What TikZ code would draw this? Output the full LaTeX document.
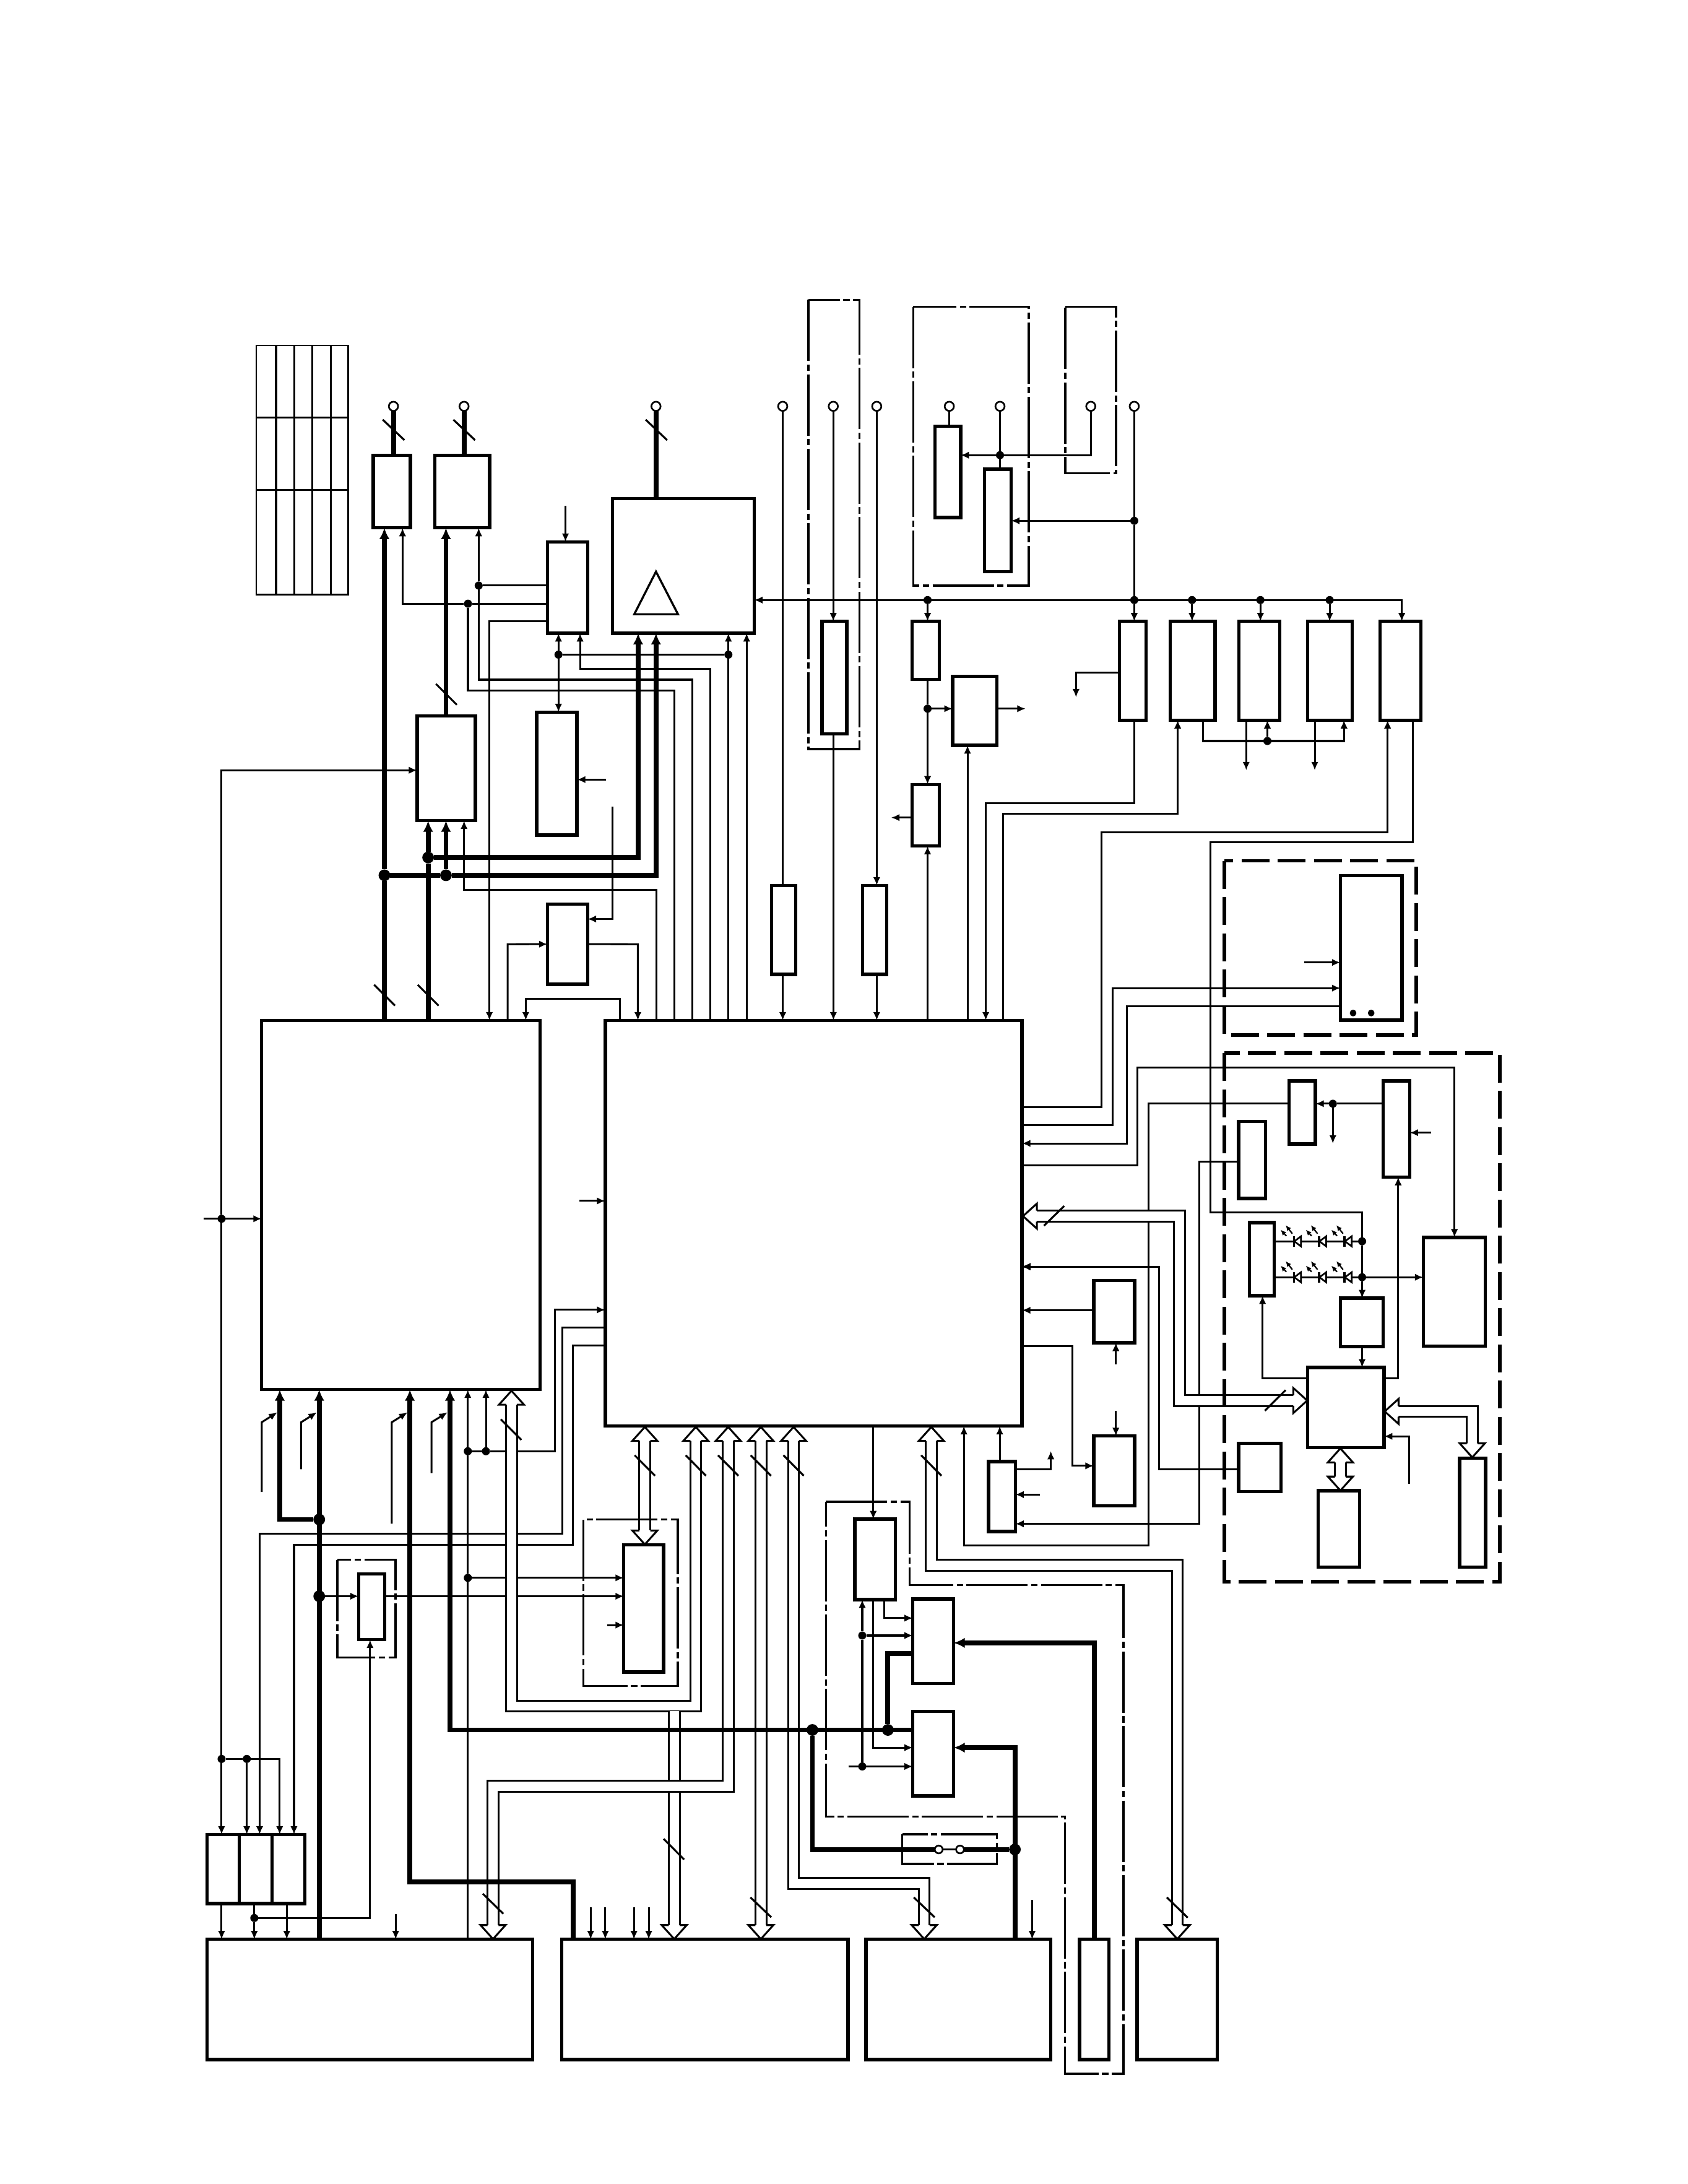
\documentclass[tikz,border=0pt]{standalone}
\usetikzlibrary{arrows.meta}
\tikzset{
  blk/.style={rectangle,draw=black,line width=2.4pt,inner sep=0pt,outer sep=0pt},
  wire/.style={line width=1.35pt,draw=black},
  ar/.style={-{Latex[length=6pt,width=5.2pt]}},
  tar/.style={-{Latex[length=8pt,width=7.4pt]}},
  fat/.style={line width=3.5pt,draw=black},
  bus/.style={draw=black,line width=1.35pt,double=white,double distance=6.5pt},
  dotn/.style={circle,fill=black,inner sep=0pt,outer sep=0pt,minimum size=5.8pt},
  bigdot/.style={circle,fill=black,inner sep=0pt,outer sep=0pt,minimum size=8.4pt},
  term/.style={circle,draw=black,fill=white,line width=1.2pt,inner sep=0pt,outer sep=0pt,minimum size=6.6pt},
  slash/.style={line width=1.4pt,draw=black},
  dashbox/.style={draw=black,line width=2.5pt,dash pattern=on 20pt off 6pt},
  dotbox/.style={draw=black,line width=1.5pt,dash pattern=on 44pt off 2.5pt on 4.5pt off 2.5pt},
  grid line/.style={draw=black,line width=1.3pt}
}
\newcommand{\myblock}[5]{\node[blk,minimum width={(#4-#2)*1pt},minimum height={(#5-#3)*1pt}] (#1) at ({(#2+#4)/2},{(#3+#5)/2}) {};}
\newcommand{\jn}[3]{\node[dotn] (#1) at (#2,#3) {};}
\newcommand{\Jn}[3]{\node[bigdot] (#1) at (#2,#3) {};}
\newcommand{\hh}[3]{\begin{scope}[shift={(#1,#2)},rotate=#3]
  \fill[white] (0,0) -- (-10,9) -- (-10,-9) -- cycle;
  \draw[line width=1.35pt,miter limit=4] (-10,3.9) -- (-10,9) -- (0,0) -- (-10,-9) -- (-10,-3.9);
\end{scope}}
\newcommand{\led}[2]{\begin{scope}[shift={(#1,#2)}]
  \fill[white] (-1.5,0) -- (3.3,-3.6) -- (3.3,3.6) -- cycle;
  \draw[line width=1.2pt] (-1.5,0) -- (3.3,-3.6) -- (3.3,3.6) -- cycle;
  \draw[line width=1.5pt] (-1.8,-3.8) -- (-1.8,3.8);
  \draw[line width=1pt,-{Latex[length=4pt,width=3.6pt]}] (-7.2,-3.9) -- (-11.3,-8.3);
  \draw[line width=1pt,-{Latex[length=4pt,width=3.6pt]}] (-2.9,-5.5) -- (-7.7,-11.6);
\end{scope}}
\begin{document}
\begin{tikzpicture}[x=1pt,y=-1pt]
\useasboundingbox (0,0) rectangle (1212,1568);
% ---- table
\draw[grid line] (184,248) rectangle (250,427);
\foreach \xx in {211.4,224.4,237.4} \draw[grid line] (\xx,248) -- (\xx,427);
\draw[grid line,line width=1.7pt] (198.3,248) -- (198.3,427);
\draw[grid line] (184,299.6) -- (250,299.6);
\draw[grid line,line width=1.7pt] (184,351.8) -- (250,351.8);
% ---- blocks
\myblock{a}{268}{326.8}{294.7}{379}
\myblock{b}{312.2}{326.8}{351.6}{379}
\myblock{c}{393}{389}{422}{454.6}
\myblock{tri}{439.8}{358}{541.5}{454.6}
\myblock{d}{299.5}{514}{341.4}{589.2}
\myblock{e}{385.4}{511.3}{414.3}{599.5}
\myblock{f}{393.1}{649.1}{422}{706.6}
\myblock{ga}{554}{635.7}{571.3}{699.5}
\myblock{gb}{619.3}{635.7}{636.6}{699.5}
\myblock{h}{590.2}{446.1}{608}{526.9}
\myblock{ka}{671.3}{305.9}{689.7}{371.6}
\myblock{kb}{707}{336.8}{726}{410.4}
\myblock{ma}{655}{446.1}{674.4}{487.8}
\myblock{mb}{684}{485.5}{715.9}{535.1}
\myblock{mc}{655}{563.2}{674.4}{607.4}
\myblock{ra}{803.8}{446.1}{822.8}{517}
\myblock{rb}{840.3}{446.1}{872.4}{517}
\myblock{rc}{889.5}{446.1}{918.8}{517}
\myblock{rd}{938.8}{446.1}{970.9}{517}
\myblock{re}{990.9}{446.1}{1020.2}{517}
\myblock{sa}{962.4}{628.6}{1006.7}{732.5}
\myblock{lft}{187.9}{732.6}{387.9}{997.6}
\myblock{main}{434.6}{732.6}{733.8}{1023.8}
\myblock{na}{925.5}{776}{944.5}{821.4}
\myblock{nb}{993.2}{776}{1012.2}{845}
\myblock{nc}{889.4}{805}{908.6}{860.4}
\myblock{nd}{897}{877.8}{914.9}{930.2}
\myblock{ne}{962.4}{932}{993}{967}
\myblock{nf}{1021.9}{888.4}{1066.4}{966.5}
\myblock{gg}{938.8}{981.8}{993.7}{1039.3}
\myblock{ng}{946.5}{1070.2}{976.1}{1125}
\myblock{nh}{1048}{1046.8}{1066.7}{1125}
\myblock{ni}{889.4}{1036.2}{919.7}{1070.8}
\myblock{pa}{785.3}{919.4}{814.7}{964}
\myblock{pb}{785.3}{1031}{814.7}{1081}
\myblock{hh}{709.7}{1049.4}{729}{1099.5}
\myblock{mem}{447.9}{1109.1}{476.4}{1200.4}
\myblock{sm}{257.5}{1130}{276.2}{1177.2}
\myblock{qa}{613.8}{1090.7}{642.9}{1148.4}
\myblock{qb}{655.4}{1148}{684.7}{1208.7}
\myblock{qc}{655.4}{1228.6}{684.7}{1289.3}
\myblock{tra}{148.6}{1317.1}{171.8}{1366.6}
\myblock{trb}{171.8}{1317.1}{195.4}{1366.6}
\myblock{trc}{195.4}{1317.1}{218.9}{1366.6}
\myblock{bba}{148.6}{1392.3}{382.4}{1478.7}
\myblock{bbb}{403.4}{1392.3}{608.8}{1478.7}
\myblock{bbc}{621.8}{1392.3}{754.4}{1478.7}
\myblock{bbd}{775.1}{1392.3}{796.1}{1478.7}
\myblock{bbe}{816.5}{1392.3}{874}{1478.7}
% triangle and the two dots
\draw[line width=1.5pt] (471,410.4) -- (486.8,441) -- (455.4,441) -- cycle;
\fill (971.5,727.3) circle (2.4pt) (984.5,727.3) circle (2.4pt);
% ---- terminals
\node[term] (ta) at (282.5,291.7) {};
\node[term] (tb) at (333.2,291.7) {};
\node[term] (tc) at (471,291.7) {};
\node[term] (td) at (562,291.7) {};
\node[term] (te) at (598.3,291.7) {};
\node[term] (tf) at (629.5,291.7) {};
\node[term] (tg) at (681.6,291.7) {};
\node[term] (ti) at (718,291.7) {};
\node[term] (tj) at (783.2,291.7) {};
\node[term] (tk) at (814.4,291.7) {};
% ---- junctions
\jn{jA}{336}{433.4}
\jn{jB}{343.7}{420.4}
\jn{jC}{401}{470}
\jn{jD}{523}{470}
\jn{jE}{718}{326.8}
\jn{jF}{814.4}{373.9}
\jn{jG}{814.4}{430.8}
\jn{jH}{666}{430.8}
\jn{jI}{855.9}{430.8}
\jn{jJ}{905}{430.8}
\jn{jK}{954.7}{430.8}
\jn{jL}{666}{508.8}
\jn{jM}{910}{532}
\jn{jN}{159.1}{875}
\jn{jO}{159.1}{1262.8}
\jn{jP}{177.2}{1262.8}
\jn{jQ}{335.9}{1041.9}
\jn{jR}{348.9}{1041.9}
\jn{jS}{335.9}{1132.8}
\jn{jT}{182.6}{1377}
\jn{jU}{957}{792.4}
\jn{jV}{978}{891.2}
\jn{jW}{978}{917}
\jn{jX}{619.1}{1174.2}
\jn{jY}{619.1}{1268.2}
\Jn{kA}{276}{628.4}
\Jn{kB}{320.2}{628.4}
\Jn{kC}{307.4}{615.6}
\Jn{kD}{229.2}{1090.9}
\Jn{kE}{229.2}{1146}
\Jn{kF}{583.3}{1242}
\Jn{kG}{637.5}{1242}
\Jn{kH}{728.7}{1327.8}
\node[term,minimum size=5.6pt] (swa) at (674,1327.8) {};
\node[term,minimum size=5.6pt] (swb) at (689.3,1327.8) {};
% ---- thin wires, top left
\draw[wire,ar] (c.west|-jA) -- (jA) -- (289,433.4) -- (289,0|-a.south);
\draw[wire] (jA) -- (336,495.7) -- (484.3,495.7) -- (484.3,0|-main.north);
\draw[wire,ar] (c.west|-jB) -- (jB) -- (343.7,0|-b.south);
\draw[wire] (jB) -- (343.7,488) -- (497,488) -- (497,0|-main.north);
\draw[wire,ar,line width=1.6pt] (c.west|-0,446) -- (351.4,446) -- (351.4,0|-lft.north);
\coordinate (cTop) at (406,363.1);
\draw[wire,ar] (cTop) -- (406,0|-c.north);
\draw[wire,ar] (510,0|-main.north) -- (510,480.2) -- (416.5,480.2) -- (416.5,0|-c.south);
\draw[wire,ar] (jC) -- (401,0|-c.south);
\draw[wire,ar] (jC) -- (401,0|-e.north);
\draw[wire] (jC) -- (jD);
\draw[wire,ar] (523,0|-main.north) -- (523,0|-tri.south);
\draw[wire,ar] (536.1,0|-main.north) -- (536.1,0|-tri.south);
\coordinate (eIn) at (435,559.7);
\draw[wire,ar] (eIn) -- (e.east|-eIn);
\draw[wire,ar] (439.7,579.2) -- (439.7,659.8) -- (f.east|-0,659.8);
\draw[wire,ar] (364.5,0|-lft.north) -- (364.5,677.9) -- (f.west);
\draw[wire,ar] (f.east) -- (458,677.9) -- (458,0|-main.north);
\draw[wire,ar] (445.1,0|-main.north) -- (445.1,717) -- (377.5,717) -- (377.5,0|-lft.north);
\draw[wire,ar] (471.2,0|-main.north) -- (471.2,638.7) -- (333.2,638.7) -- (333.2,0|-d.south);
\draw[wire,ar] (jN) -- (159.1,553) -- (d.west|-0,553);
\coordinate (lftIn) at (146,875);
\draw[wire,ar] (lftIn) -- (lft.west|-lftIn);
\draw[wire,ar] (jN) -- (159.1,0|-tra.north);
% ---- centre column
\draw[wire] (td) -- (td.south|-ga.north);
\draw[wire,ar] (562,0|-ga.south) -- (562,0|-main.north);
\draw[wire,ar] (te) -- (te.south|-h.north);
\draw[wire,ar] (598.4,0|-h.south) -- (598.4,0|-main.north);
\draw[wire,ar] (tf) -- (tf.south|-gb.north);
\draw[wire,ar] (629.5,0|-gb.south) -- (629.5,0|-main.north);
\draw[wire,ar] (666,0|-main.north) -- (666,0|-mc.south);
\coordinate (mcOut) at (639.8,587);
\draw[wire,ar] (mc.west|-mcOut) -- (mcOut);
\draw[wire] (666,0|-ma.south) -- (jL);
\draw[wire,ar] (jL) -- (666,0|-mc.north);
\draw[wire,ar] (jL) -- (mb.west|-jL);
\coordinate (mbOut) at (736.4,508.8);
\draw[wire,ar] (mb.east|-mbOut) -- (mbOut);
\draw[wire,ar] (jH) -- (666,0|-ma.north);
\draw[wire,ar] (694.7,0|-main.north) -- (694.7,0|-mb.south);
% ---- top row
\draw[wire,ar] (814.4,0|-ra.south) -- (814.4,576.5) -- (707.8,576.5) -- (707.8,0|-main.north);
\draw[wire,ar] (720.4,0|-main.north) -- (720.4,584.3) -- (845.6,584.3) -- (845.6,0|-rb.south);
\draw[wire,ar] (ra.west|-0,483) -- (772.6,483) -- (772.6,500.6);
\draw[wire,ar] (863.7,0|-rb.south) -- (863.7,532) -- (965,532) -- (965,0|-rd.south);
\draw[wire,ar] (jM) -- (910,0|-rc.south);
\draw[wire,ar] (894.8,0|-rc.south) -- (894.8,553);
\draw[wire,ar] (944,0|-rd.south) -- (944,553);
\draw[wire,ar] (main.east|-0,794.9) -- (790.8,794.9) -- (790.8,597.5) -- (996.3,597.5) -- (996.3,0|-re.south);
\draw[wire] (1014.6,0|-re.south) -- (1014.6,604.8) -- (868.9,604.8) -- (868.9,870.6) -- (978,870.6) -- (jV);
\draw[wire] (tk) -- (jF);
\draw[wire] (jF) -- (jG);
\draw[wire,ar] (jG) -- (814.4,0|-ra.north);
\draw[wire,ar] (jF) -- (kb.east|-jF);
\draw[wire,ar] (tj) -- (783.2,326.8) -- (ka.east|-jE);
\draw[wire] (ti) -- (ti.south|-kb.north);
\draw[wire] (tg) -- (tg.south|-ka.north);
\draw[wire,{Latex[length=6pt,width=5.2pt]}-{Latex[length=6pt,width=5.2pt]}] (tri.east|-jG) -- (1006.5,430.8) -- (1006.5,0|-re.north);
\draw[wire,ar] (jI) -- (855.9,0|-rb.north);
\draw[wire,ar] (jJ) -- (905,0|-rc.north);
\draw[wire,ar] (jK) -- (954.7,0|-rd.north);
% ---- right side
\draw[wire,ar] (main.east|-0,807.6) -- (798.8,807.6) -- (798.8,709.4) -- (sa.west|-0,709.4);
\draw[wire,ar] (sa.west|-0,722.3) -- (809.1,722.3) -- (809.1,820.9) -- (main.east|-0,820.9);
\coordinate (saIn) at (936.3,691);
\draw[wire,ar] (saIn) -- (sa.west|-saIn);
\draw[wire,ar] (main.east|-0,836.8) -- (816.6,836.8) -- (816.6,766.5) -- (1044.3,766.5) -- (1044.3,0|-nf.north);
\draw[wire,ar] (na.west|-jU) -- (824.6,792.4) -- (824.6,1109.4) -- (692.1,1109.4) -- (692.1,0|-main.south);
\draw[wire] (nb.west|-jU) -- (jU);
\draw[wire,ar] (jU) -- (na.east|-jU);
\draw[wire,ar] (jU) -- (957,821);
\coordinate (nbIn) at (1027.4,813.2);
\draw[wire,ar] (nbIn) -- (nb.east|-nbIn);
\draw[wire,ar] (gg.east|-0,989.7) -- (1003.9,989.7) -- (1003.9,0|-nb.south);
\draw[wire,ar] (gg.west|-0,989.7) -- (906.5,989.7) -- (906.5,0|-nd.south);
\draw[wire,ar] (nc.west|-0,833.9) -- (861.2,833.9) -- (861.2,1094) -- (hh.east|-0,1094);
\draw[wire] (nd.east|-jV) -- (jV);
\draw[wire] (nd.east|-jW) -- (jW);
\draw[wire] (jV) -- (jW);
\draw[wire,ar] (jW) -- (978,0|-ne.north);
\draw[wire,ar] (jW) -- (nf.west|-jW);
\draw[wire,ar] (978,0|-ne.south) -- (978,0|-gg.north);
\foreach \yy in {891.2,917} \foreach \xx in {930.8,948.9,967.2} \led{\xx}{\yy}
\draw[wire,ar] (ni.west|-0,1055) -- (832.3,1055) -- (832.3,909.4) -- (main.east|-0,909.4);
\draw[wire,ar] (pa.west|-0,940.7) -- (main.east|-0,940.7);
\coordinate (paIn) at (801.2,979.4);
\draw[wire,ar] (paIn) -- (801.2,0|-pa.south);
\coordinate (pbIn) at (801.2,1013);
\draw[wire,ar] (pbIn) -- (801.2,0|-pb.north);
\draw[wire,ar] (main.east|-0,966.4) -- (770.1,966.4) -- (770.1,1052.4) -- (pb.west|-0,1052.4);
\draw[wire,ar] (717.8,0|-hh.north) -- (717.8,0|-main.south);
\draw[wire,ar] (hh.east|-0,1054.8) -- (754.5,1054.8) -- (754.5,1041.7);
\coordinate (hhIn) at (746.8,1073);
\draw[wire,ar] (hhIn) -- (hh.east|-hhIn);
\draw[wire,ar] (1011.7,1065.1) -- (1011.7,1031.2) -- (gg.east|-0,1031.2);
% ---- left of main
\coordinate (mainIn) at (416,862.2);
\draw[wire,ar] (mainIn) -- (main.west|-mainIn);
\draw[wire,ar] (jR) -- (398.3,1041.9) -- (398.3,940.4) -- (main.west|-0,940.4);
\draw[wire] (jQ) -- (jR);
\draw[wire,ar] (jQ) -- (335.9,0|-lft.south);
\draw[wire,ar] (jR) -- (348.9,0|-lft.south);
\draw[wire] (jQ) -- (jS) -- (335.9,0|-bba.north);
\draw[wire,ar] (jS) -- (mem.west|-jS);
\draw[wire,ar] (main.west|-0,953.3) -- (403.7,953.3) -- (403.7,1101.2) -- (186.4,1101.2) -- (186.4,0|-trb.north);
\draw[wire,ar] (main.west|-0,966.2) -- (411.4,966.2) -- (411.4,1109.3) -- (211.1,1109.3) -- (211.1,0|-trc.north);
\draw[wire] (jO) -- (jP);
\draw[wire,ar] (jP) -- (200.8,1262.8) -- (200.8,0|-trc.north);
\draw[wire,ar] (jP) -- (177.2,0|-trb.north);
\draw[wire,ar] (159.1,0|-tra.south) -- (159.1,0|-bba.north);
\draw[wire] (182.6,0|-trb.south) -- (jT);
\draw[wire,ar] (jT) -- (182.6,0|-bba.north);
\draw[wire,ar] (jT) -- (265.7,1377) -- (265.7,0|-sm.south);
\draw[wire,ar] (205.9,0|-trc.south) -- (205.9,0|-bba.north);
\coordinate (bbaIn) at (284.1,1374.4);
\draw[wire,ar] (bbaIn) -- (284.1,0|-bba.north);
\draw[wire,ar] (kE) -- (sm.west|-kE);
\draw[wire,ar] (sm.east|-kE) -- (mem.west|-kE);
\coordinate (memIn) at (436.1,1166.7);
\draw[wire,ar] (memIn) -- (mem.west|-memIn);
\draw[wire,ar] (187.9,1071.1) -- (187.9,1021.1) -- (199.1,1014);
\draw[wire,ar] (216.2,1054.8) -- (216.2,1021.1) -- (227.5,1014);
\draw[wire,ar] (281.3,1093.9) -- (281.3,1021.1) -- (292.6,1014);
\draw[wire,ar] (309.8,1057.6) -- (309.8,1021.1) -- (321.3,1014);
\foreach \xx in {424.1,434.6,455.2,465.8} \draw[wire,ar] (\xx,1369.4) -- (\xx,0|-bbb.north);
\coordinate (bbcIn) at (741.1,1364);
\draw[wire,ar] (bbcIn) -- (741.1,0|-bbc.north);
% ---- q blocks
\draw[wire,ar] (627,0|-main.south) -- (627,0|-qa.north);
\draw[wire] (jY) -- (jX);
\draw[wire,ar] (jX) -- (619.1,0|-qa.south);
\draw[wire,ar] (jX) -- (qb.west|-jX);
\draw[wire,ar] (609.2,1268.2) -- (qc.west|-jY);
\draw[wire,ar] (627,0|-qa.south) -- (627,1254.7) -- (qc.west|-0,1254.7);
\draw[wire,ar] (635,0|-qa.south) -- (635,1161.7) -- (qb.west|-0,1161.7);
% ---- hollow buses
\draw[bus] (367.25,1008) -- (367.25,1224.9) -- (499.6,1224.9) -- (499.6,1034);
\draw[bus] (484.1,1228.4) -- (484.1,1382.3);
\draw[bus] (522.85,1034) -- (522.85,1282.35) -- (354,1282.35) -- (354,1382.3);
\draw[bus] (546.3,1034) -- (546.3,1382.3);
\draw[bus] (569.8,1034) -- (569.8,1352.2) -- (663.6,1352.2) -- (663.6,1382.3);
\draw[bus] (463,1034) -- (463,1098.8);
\draw[bus] (668.7,1034) -- (668.7,1123.7) -- (845.3,1123.7) -- (845.3,1382.3);
\draw[bus] (744.3,873.1) -- (846.8,873.1) -- (846.8,1005.5) -- (929,1005.5);
\draw[bus] (1004,1013.3) -- (1057.1,1013.3) -- (1057.1,1036.5);
\draw[bus] (962.4,1049.9) -- (962.4,1060.5);
\hh{367.25}{998.5}{90}
\hh{463}{1024.5}{90}
\hh{499.6}{1024.5}{90}
\hh{522.85}{1024.5}{90}
\hh{546.3}{1024.5}{90}
\hh{569.8}{1024.5}{90}
\hh{668.7}{1024.5}{90}
\hh{463}{1108.8}{-90}
\hh{354}{1392.1}{-90}
\hh{484.1}{1392.1}{-90}
\hh{546.3}{1392.1}{-90}
\hh{663.6}{1392.1}{-90}
\hh{845.3}{1392.1}{-90}
\hh{734.5}{873.1}{180}
\hh{938.6}{1005.5}{0}
\hh{994.2}{1013.3}{180}
\hh{1057.1}{1046.3}{-90}
\hh{962.4}{1039.9}{90}
\hh{962.4}{1070.1}{-90}
% ---- heavy lines
\draw[fat] (ta) -- (ta.south|-a.north);
\draw[fat] (tb) -- (tb.south|-b.north);
\draw[fat] (tc) -- (tc.south|-tri.north);
\draw[fat,tar] (276,0|-lft.north) -- (kA) -- (276,0|-a.south);
\draw[fat,tar] (307.4,0|-lft.north) -- (kC) -- (307.4,0|-d.south);
\draw[fat,tar] (kA) -- (kB) -- (471,628.4) -- (471,0|-tri.south);
\draw[fat,tar] (kC) -- (458.2,615.6) -- (458.2,0|-tri.south);
\draw[fat,tar] (kB) -- (320.2,0|-d.south);
\draw[fat,tar] (320.2,0|-d.north) -- (320.2,0|-b.south);
\draw[fat,tar] (229.2,0|-bba.north) -- (229.2,0|-lft.south);
\draw[fat,tar] (kD) -- (200.9,1090.9) -- (200.9,0|-lft.south);
\draw[fat,tar] (411.6,0|-bbb.north) -- (411.6,1351) -- (294.3,1351) -- (294.3,0|-lft.south);
\draw[fat,tar] (qc.west|-kF) -- (323.1,1242) -- (323.1,0|-lft.south);
\draw[fat] (kG) -- (637.5,1187) -- (qb.west|-0,1187);
\draw[fat] (kF) -- (583.3,1327.8) -- (swa);
\draw[fat] (swb) -- (kH);
\draw[wire] (swa) -- (swb);
\draw[fat,tar] (728.7,0|-bbc.north) -- (728.7,1254.7) -- (qc.east|-0,1254.7);
\draw[fat,tar] (785.6,0|-bbd.north) -- (785.6,1179.5) -- (qb.east|-0,1179.5);
% ---- slashes
\draw[slash] (274.8,301.3) -- (290.4,316);
\draw[slash] (325.5,301.3) -- (341.1,316);
\draw[slash] (463.6,301.3) -- (479,316);
\draw[slash] (313,491) -- (328,506);
\draw[slash] (268.6,707) -- (283.6,722);
\draw[slash] (299.9,707) -- (314.9,722);
\draw[slash] (359.6,1019) -- (374.4,1033.8);
\foreach \xx in {463,499.6,522.85,546.3,569.8,668.7} \draw[slash] (\xx-7.3,1044.8) -- (\xx+7.3,1059.5);
\draw[slash] (346.7,1359.6) -- (361.4,1374);
\draw[slash] (476.5,1320.2) -- (491.2,1335);
\draw[slash] (538.8,1362.2) -- (553.8,1376.5);
\draw[slash] (656.1,1362.2) -- (671.1,1376.5);
\draw[slash] (837.8,1362.2) -- (852.8,1376.8);
\draw[slash] (749.6,880) -- (764.1,865.8);
\draw[slash] (908.2,1012.8) -- (923.1,998);
% ---- enclosures
\draw[dashbox] (879,618) rectangle (1017,743.2);
\draw[dashbox] (879,756) rectangle (1077,1135.6);
\draw[dotbox] (580.5,215.2) rectangle (617,537.7);
\draw[dotbox] (655.7,220.3) rectangle (738.6,420.4);
\draw[dotbox] (764.8,220.3) -- (801.3,220.3) -- (801.3,339.9) -- (764.8,339.9) -- cycle;
\draw[dotbox] (419,1091) rectangle (486.7,1210.4);
\draw[dotbox] (242.2,1119.9) rectangle (284,1190.1);
\draw[dotbox] (647.9,1316.9) rectangle (715.9,1338.2);
\draw[dotbox] (593.1,1078.2) -- (653.1,1078.2) -- (653.1,1137.9) -- (806.6,1137.9) -- (806.6,1488.9) -- (764.6,1488.9) -- (764.6,1304.3) -- (593.1,1304.3) -- cycle;
\end{tikzpicture}
\end{document}
